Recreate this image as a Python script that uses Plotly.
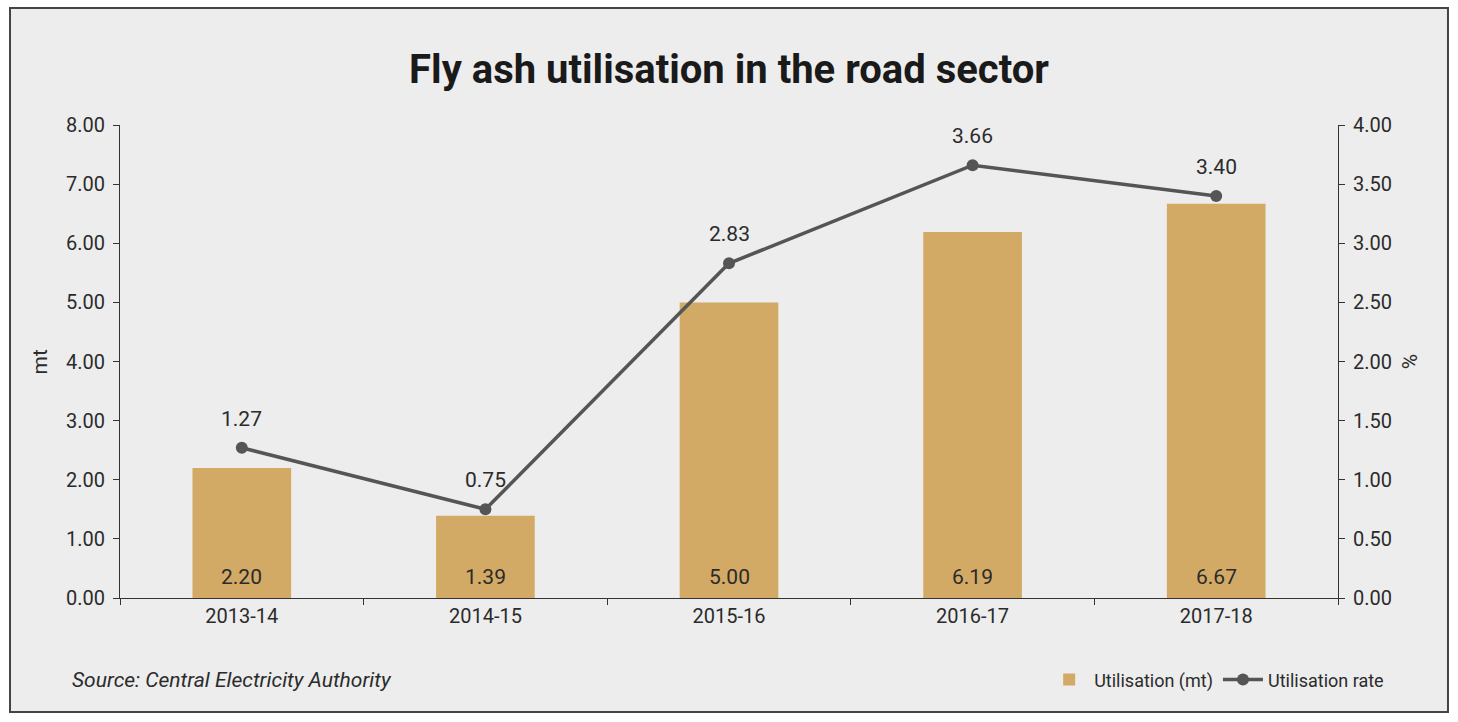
import plotly.graph_objects as go

# data
years = ["2013-14", "2014-15", "2015-16", "2016-17", "2017-18"]
utilisation_mt = [2.20, 1.39, 5.00, 6.19, 6.67]
utilisation_rate = [1.27, 0.75, 2.83, 3.66, 3.40]
left_ticks = [0, 1, 2, 3, 4, 5, 6, 7, 8]
right_ticks = [0, 0.5, 1, 1.5, 2, 2.5, 3, 3.5, 4]

FONT = "Roboto, Liberation Sans, sans-serif"
TXT = "#2b2b2b"
BAR = "#d2aa66"
LINE = "#555555"
BG = "#ededed"

fig = go.Figure()

fig.add_trace(go.Bar(
    x=years, y=utilisation_mt, name="Utilisation (mt)",
    marker=dict(color=BAR, line=dict(width=0)),
    width=0.405,
))

fig.add_trace(go.Scatter(
    x=years, y=utilisation_rate, name="Utilisation rate", yaxis="y2",
    mode="lines+markers",
    line=dict(color=LINE, width=3.5),
    marker=dict(color=LINE, size=12),
    cliponaxis=False,
))

# value labels: bar values near the base, rate values above the markers
for yr, v in zip(years, utilisation_mt):
    fig.add_annotation(x=yr, y=0, xref="x", yref="y", text=f"{v:.2f}",
                       yshift=21, showarrow=False,
                       font=dict(family=FONT, size=21, color=TXT))
for yr, v in zip(years, utilisation_rate):
    fig.add_annotation(x=yr, y=v, xref="x", yref="y2", text=f"{v:.2f}",
                       yshift=29, showarrow=False,
                       font=dict(family=FONT, size=21, color=TXT))

# grey panel with dark border behind everything
fig.add_shape(type="rect", xref="paper", yref="paper",
              x0=-0.0903, x1=1.0903, y0=-0.241, y1=1.2474,
              fillcolor=BG, line=dict(color="#444444", width=2), layer="below")

fig.update_layout(
    width=1458, height=722,
    margin=dict(l=120, r=120, t=125, b=124),
    paper_bgcolor="white",
    plot_bgcolor="rgba(0,0,0,0)",
    font=dict(family=FONT, size=18, color=TXT),
    title=dict(text="<b>Fly ash utilisation in the road sector</b>",
               x=0.5, xanchor="center", y=0.905, yanchor="middle",
               font=dict(family=FONT, size=40, color="#1a1a1a", weight=900)),
    xaxis=dict(
        showline=True, linecolor="#333333", linewidth=1,
        ticks="outside", tickson="boundaries", ticklen=6, tickcolor="#333333",
        showgrid=False, tickfont=dict(size=20), fixedrange=True,
    ),
    yaxis=dict(
        range=[0, 8], tickvals=left_ticks,
        ticktext=[f"{v:.2f}" for v in left_ticks],
        showline=True, linecolor="#333333", linewidth=1,
        ticks="outside", ticklen=6, tickcolor="#333333", ticklabelstandoff=4,
        showgrid=False, zeroline=False, tickfont=dict(size=20),
    ),
    yaxis2=dict(
        range=[0, 4], tickvals=right_ticks,
        ticktext=[f"{v:.2f}" for v in right_ticks],
        overlaying="y", side="right",
        showline=True, linecolor="#333333", linewidth=1,
        ticks="outside", ticklen=6, tickcolor="#333333", ticklabelstandoff=4,
        showgrid=False, zeroline=False, tickfont=dict(size=20),
    ),
    legend=dict(orientation="h", x=1.042, xanchor="right", y=-0.173, yanchor="middle",
                bgcolor="rgba(0,0,0,0)", font=dict(size=18, color=TXT),
                traceorder="normal", itemwidth=40),
    showlegend=True,
)

fig.add_annotation(text="mt", xref="paper", yref="paper", x=-0.0657, y=0.5,
                   xanchor="center", yanchor="middle",
                   textangle=-90, showarrow=False, font=dict(size=21, color=TXT))
fig.add_annotation(text="%", xref="paper", yref="paper", x=1.059, y=0.5,
                   xanchor="center", yanchor="middle",
                   textangle=90, showarrow=False, font=dict(size=21, color=TXT))
fig.add_annotation(text="<i>Source: Central Electricity Authority</i>",
                   xref="paper", yref="paper", x=-0.041, y=-0.173,
                   xanchor="left", yanchor="middle", showarrow=False,
                   font=dict(size=21, color=TXT))

# drop the default 8px page margin so the figure sits at the window corner
fig.write_html("out.html", config={"displayModeBar": False},
               post_script="document.body.style.margin='0';")
